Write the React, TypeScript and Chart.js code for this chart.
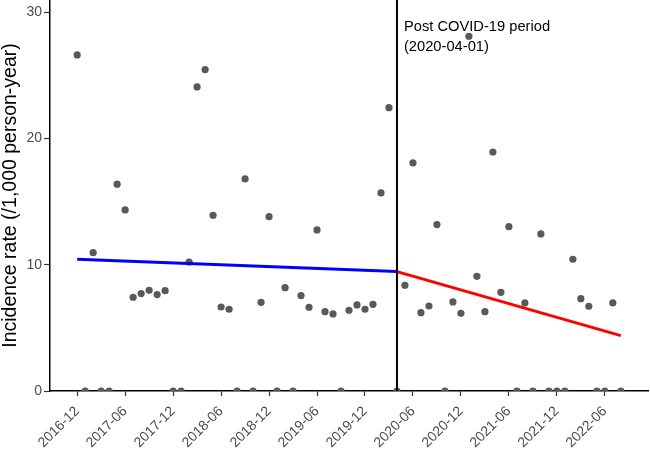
import React, { useEffect, useRef } from "react";
import { Chart, registerables } from "chart.js";

Chart.register(...registerables);

// Monthly incidence rate (/1,000 person-year), starting 2016-12 (index 0)
const incidenceRate = [
  26.6, 0, 10.95, 0, 0, 16.37, 14.33, 7.42, 7.71, 7.97, 7.63, 7.94,
  0, 0, 10.21, 24.07, 25.44, 13.91, 6.65, 6.47, 0, 16.79, 0, 7.02,
  13.8, 0, 8.18, 0, 7.55, 6.63, 12.75, 6.28, 6.1, 0, 6.39, 6.81,
  6.47, 6.86, 15.68, 22.43, 0, 8.37, 18.05, 6.2, 6.73, 13.17, 0, 7.05,
  6.15, 28.08, 9.08, 6.28, 18.92, 7.81, 13.01, 0, 6.97, 0, 12.43, 0,
  0, 0, 10.43, 7.31, 6.71, 0, 0, 6.97, 0,
];

// Fitted trend lines (month index, rate)
const preTrendMonths = [0, 40];
const preTrendValues = [10.43, 9.45];
const postTrendMonths = [40, 68];
const postTrendValues = [9.45, 4.38];

// Intervention
const interventionMonth = 40;
const annotationLines = ["Post COVID-19 period", "(2020-04-01)"];

// Axis ticks
const xTickMonths = [0, 6, 12, 18, 24, 30, 36, 42, 48, 54, 60, 66];
const xTickLabels = [
  "2016-12", "2017-06", "2017-12", "2018-06", "2018-12", "2019-06",
  "2019-12", "2020-06", "2020-12", "2021-06", "2021-12", "2022-06",
];
const yTicks = [0, 10, 20, 30];
const yTitle = "Incidence rate (/1,000 person-year)";

const FONT = '"Liberation Sans", Arial, Helvetica, sans-serif';

export default function App() {
  const ref = useRef<HTMLCanvasElement | null>(null);

  useEffect(() => {
    if (!ref.current) return;
    const interventionPlugin = {
      id: "intervention",
      afterDatasetsDraw(chart: any) {
        const { ctx, chartArea, scales } = chart;
        const x = scales.x.getPixelForValue(interventionMonth);
        ctx.save();
        ctx.strokeStyle = "#000";
        ctx.lineWidth = 2;
        ctx.beginPath();
        ctx.moveTo(x, chartArea.top);
        ctx.lineTo(x, chartArea.bottom);
        ctx.stroke();
        ctx.fillStyle = "#000";
        ctx.font = `14.7px ${FONT}`;
        ctx.textAlign = "left";
        ctx.textBaseline = "alphabetic";
        ctx.fillText(annotationLines[0], x + 7, 31);
        ctx.fillText(annotationLines[1], x + 7, 51);
        ctx.restore();
      },
    };

    const chart = new Chart(ref.current, {
      type: "scatter",
      data: {
        datasets: [
          {
            type: "line",
            data: preTrendMonths.map((m, i) => ({ x: m, y: preTrendValues[i] })),
            borderColor: "#0000FF",
            borderWidth: 3,
            pointRadius: 0,
            fill: false,
            order: 0,
          },
          {
            type: "line",
            data: postTrendMonths.map((m, i) => ({ x: m, y: postTrendValues[i] })),
            borderColor: "#FF0000",
            borderWidth: 3,
            pointRadius: 0,
            fill: false,
            order: 0,
          },
          {
            type: "scatter",
            data: incidenceRate.map((v, i) => ({ x: i, y: v })),
            backgroundColor: "#595959",
            borderColor: "#595959",
            borderWidth: 0,
            pointRadius: 3.6,
            clip: 0,
            order: 1,
          },
        ],
      },
      options: {
        responsive: false,
        animation: false,
        layout: { autoPadding: false, padding: { top: 0, right: 2, left: 0, bottom: 0 } },
        plugins: { legend: { display: false }, tooltip: { enabled: false } },
        scales: {
          x: {
            type: "linear",
            min: -3.4,
            max: 71.4,
            afterBuildTicks: (scale: any) => {
              scale.ticks = xTickMonths.map((v) => ({ value: v }));
            },
            afterFit: (scale: any) => {
              scale.height = 59;
              scale.paddingLeft = 0;
              scale.paddingRight = 0;
            },
            ticks: {
              autoSkip: false,
              minRotation: 45,
              maxRotation: 45,
              padding: 7,
              color: "#4D4D4D",
              font: { family: FONT, size: 14 },
              callback: (value: any) => {
                const idx = xTickMonths.indexOf(Number(value));
                return idx >= 0 ? xTickLabels[idx] : "";
              },
            },
            grid: {
              drawOnChartArea: false,
              drawTicks: true,
              tickLength: 5,
              tickColor: "#333333",
              tickWidth: 1.2,
            },
            border: { display: true, color: "#000", width: 1.5 },
          },
          y: {
            type: "linear",
            min: 0,
            max: 30.95,
            afterBuildTicks: (scale: any) => {
              scale.ticks = yTicks.map((v) => ({ value: v }));
            },
            afterFit: (scale: any) => {
              scale.width = 50;
              scale.paddingTop = 0;
              scale.paddingBottom = 0;
            },
            ticks: {
              padding: 2,
              color: "#4D4D4D",
              font: { family: FONT, size: 14 },
              callback: (value: any) => String(value),
            },
            grid: {
              drawOnChartArea: false,
              drawTicks: true,
              tickLength: 6,
              tickColor: "#333333",
              tickWidth: 1.2,
            },
            border: { display: true, color: "#000", width: 1.5 },
            title: {
              display: true,
              text: yTitle,
              color: "#000",
              font: { family: FONT, size: 19.5, lineHeight: 1.0 },
              padding: { top: 1, bottom: 0 },
            },
          },
        },
      },
      plugins: [interventionPlugin],
    } as any);
    return () => chart.destroy();
  }, []);

  return (
    <div style={{ position: "absolute", left: 0, top: 0, width: 650, height: 450, background: "#fff" }}>
      <canvas ref={ref} width={650} height={450} />
    </div>
  );
}
